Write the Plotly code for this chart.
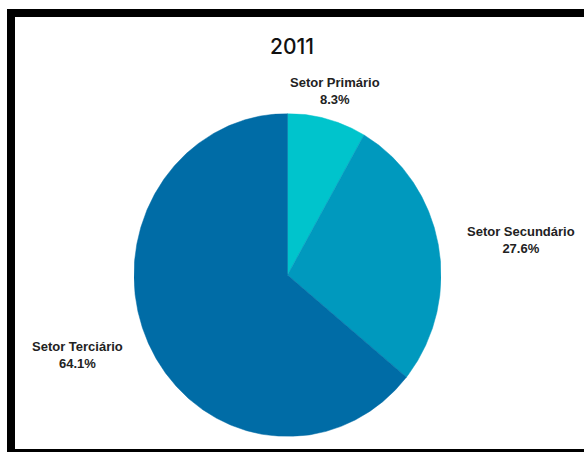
import numpy as np
import plotly.graph_objects as go

# Participação dos setores da economia em 2011
sectors = ["Setor Primário", "Setor Secundário", "Setor Terciário"]
shares = [8.3, 27.6, 64.1]
colors = ["#00C4CC", "#0099BE", "#006CA6"]
title_text = "2011"

W, H = 584, 452


def px(x):
    return x / W


def py(y):
    return 1 - y / H


# Pie box in pixels (slightly taller than wide)
cx, cy, rx, ry = 287.5, 275, 153.5, 161.5

fig = go.Figure()

# Wedges drawn clockwise from 12 o'clock on unit axes
total = sum(shares)
start = 0.0
for name, val, col in zip(sectors, shares, colors):
    frac = val / total
    t = np.linspace(start, start + frac, max(int(frac * 720), 8)) * 2 * np.pi
    xs = np.concatenate([[0], np.sin(t), [0]])
    ys = np.concatenate([[0], np.cos(t), [0]])
    fig.add_trace(
        go.Scatter(
            x=xs, y=ys, mode="lines", fill="toself", fillcolor=col,
            line=dict(width=0.5, color=col), name=name,
            hoverinfo="text", text=f"{name}: {frac * 100:.1f}%",
            showlegend=False,
        )
    )
    start += frac

# Label positions for each slice (pixel centres)
label_pos = [(335, 91), (521, 240), (77, 355)]
annotations = []
for name, val, (lx, ly) in zip(sectors, shares, label_pos):
    annotations.append(
        dict(
            x=px(lx), y=py(ly), xref="paper", yref="paper",
            text=f"<b>{name}</b><br><b>{val / total * 100:.1f}%</b>",
            showarrow=False, align="center",
            font=dict(family="Liberation Sans, Arial", size=13, color="#222222"),
            xanchor="center", yanchor="middle",
        )
    )

annotations.append(
    dict(
        x=px(292), y=py(46), xref="paper", yref="paper",
        text=title_text, showarrow=False,
        font=dict(family="Inter, Lato", size=21, color="#111111", weight=500),
        xanchor="center", yanchor="middle",
    )
)

# Black frame around the chart area
shapes = [
    dict(type="rect", xref="paper", yref="paper", layer="below",
         x0=px(7), x1=px(W + 20), y0=py(H + 10), y1=py(9),
         fillcolor="black", line=dict(width=0)),
    dict(type="rect", xref="paper", yref="paper", layer="below",
         x0=px(15), x1=px(W + 20), y0=py(449), y1=py(17),
         fillcolor="white", line=dict(width=0)),
]

axis_common = dict(range=[-1, 1], visible=False, showgrid=False,
                   zeroline=False, fixedrange=True)

fig.update_layout(
    width=W, height=H,
    margin=dict(l=0, r=0, t=0, b=0),
    paper_bgcolor="white", plot_bgcolor="rgba(0,0,0,0)",
    xaxis=dict(domain=[px(cx - rx), px(cx + rx)], **axis_common),
    yaxis=dict(domain=[py(cy + ry), py(cy - ry)], **axis_common),
    annotations=annotations,
    shapes=shapes,
)

fig.write_html("out.html")
